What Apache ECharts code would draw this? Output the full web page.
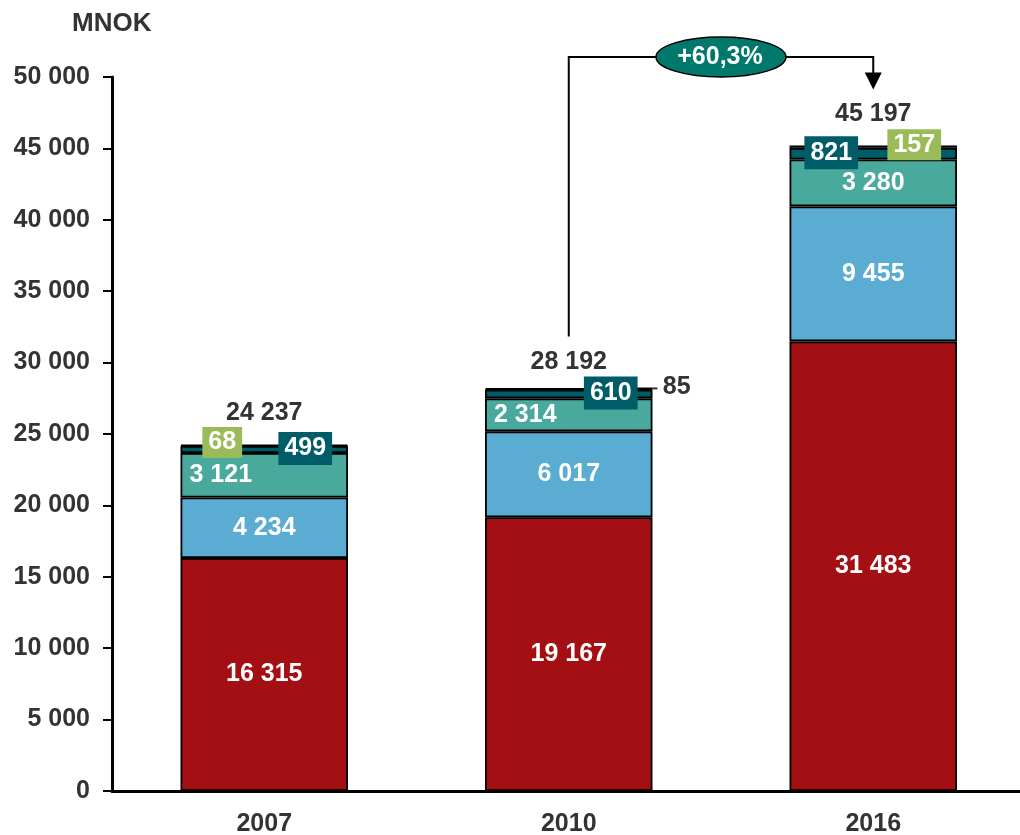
<!DOCTYPE html>
<html><head><meta charset="utf-8">
<script src="https://cdn.jsdelivr.net/npm/echarts@6/dist/echarts.min.js"></script>
<style>html,body{margin:0;padding:0;background:#fff}#c{width:1020px;height:835px}</style>
</head><body><div id="c"></div>
<script>
// ---- data ----
const years = ['2007', '2010', '2016'];
const segRed = [16315, 19167, 31483];
const segBlue = [4234, 6017, 9455];
const segTeal = [3121, 2314, 3280];
const segDark = [499, 610, 821];
const segGreen = [68, 85, 157];
const totals = [24237, 28192, 45197];
const growthText = '+60,3%';
const unitText = 'MNOK';
const yMin = 0, yMax = 50000, yStep = 5000;

// ---- styles ----
const FONT = '"Liberation Sans", Arial, sans-serif';
const TXT = '#333333';
const C = { red: '#A30F12', blue: '#5BACD3', teal: '#4AA99D', dark: '#005D68', green: '#9BBB59', oval: '#00786B' };
const fmt = v => String(v).replace(/\B(?=(\d{3})+(?!\d))/g, ' ');
const whiteLbl = { show: true, color: '#fff', fontWeight: 'bold', fontSize: 25, fontFamily: FONT, formatter: p => fmt(p.value) };
const border = { borderColor: '#000', borderWidth: 1.8 };

const tealLabelCfg = [
  { position: 'insideLeft', distance: 9 },
  { position: 'insideLeft', distance: 9 },
  { position: 'inside' }
];
const darkLabelCfg = [
  { position: 'inside', offset: [41, -1] },
  { position: 'inside', offset: [42, -1] },
  { position: 'inside', offset: [-42, -1] }
];
const greenLabelCfg = [
  { position: 'inside', offset: [-42, -3], backgroundColor: C.green, padding: [3, 6] },
  { position: 'right', distance: 10, offset: [0, -2], color: TXT, backgroundColor: 'transparent', padding: 0 },
  { position: 'inside', offset: [41, -2], backgroundColor: C.green, padding: [3, 6] }
];
const totalDist = [19, 14, 19];

const chart = echarts.init(document.getElementById('c'), null, { renderer: 'canvas' });

const option = {
  animation: false,
  grid: { left: 112, right: -5.5, top: 77, bottom: 44, containLabel: false, outerBoundsMode: 'none' },
  xAxis: {
    type: 'category', data: years,
    axisLine: { lineStyle: { color: '#000', width: 3 } },
    axisTick: { show: false },
    axisLabel: { color: TXT, fontWeight: 'bold', fontSize: 25, fontFamily: FONT, margin: 21 }
  },
  yAxis: {
    type: 'value', min: yMin, max: yMax, interval: yStep,
    axisLine: { show: true, lineStyle: { color: '#000', width: 3 } },
    axisTick: { show: true, length: 9, lineStyle: { color: '#000', width: 2 } },
    splitLine: { show: false },
    axisLabel: { color: TXT, fontWeight: 'bold', fontSize: 25, fontFamily: FONT, margin: 22, formatter: v => fmt(v) }
  },
  series: [
    { type: 'bar', stack: 's', barWidth: '55%', data: segRed, itemStyle: Object.assign({ color: C.red }, border), label: Object.assign({ position: 'inside' }, whiteLbl) },
    { type: 'bar', stack: 's', data: segBlue, itemStyle: Object.assign({ color: C.blue }, border), label: Object.assign({ position: 'inside' }, whiteLbl) },
    { type: 'bar', stack: 's', data: segTeal.map((v, i) => ({ value: v, label: tealLabelCfg[i] })), itemStyle: Object.assign({ color: C.teal }, border), label: whiteLbl },
    { type: 'bar', stack: 's', data: segDark.map((v, i) => ({ value: v, label: darkLabelCfg[i] })), itemStyle: Object.assign({ color: C.dark }, border),
      label: Object.assign({}, whiteLbl, { backgroundColor: C.dark, padding: [4, 6] }) },
    { type: 'bar', stack: 's', data: segGreen.map((v, i) => ({ value: v, label: greenLabelCfg[i] })), itemStyle: Object.assign({ color: C.green }, border),
      label: Object.assign({}, whiteLbl) },
    { type: 'scatter', symbolSize: 0, itemStyle: { opacity: 1 }, data: totals.map((v, i) => ({ value: v, label: { distance: totalDist[i] } })), z: 10,
      label: { show: true, position: 'top', color: TXT, opacity: 1, fontWeight: 'bold', fontSize: 25, fontFamily: FONT, formatter: p => fmt(p.value) } }
  ]
};
chart.setOption(option);

// ---- annotations positioned via the chart's own scales ----
const px = (i, v) => chart.convertToPixel({ gridIndex: 0 }, [i, v]);
const pA = px(1, totals[1]);
const pB = px(2, totals[2]);
const pTop = px(0, yMax);
const lineY = pTop[1] - 20;
const startY = pA[1] - 52;
const tipY = pB[1] - 56;
const midX = (pA[0] + pB[0]) / 2;
const barHalf = (pB[0] - pA[0]) * 0.55 / 2;
const pG = px(1, totals[1]);

chart.setOption({
  graphic: [
    { type: 'text', left: 72, top: 11, style: { text: unitText, fill: TXT, font: 'bold 26px ' + FONT } },
    { type: 'polyline', shape: { points: [[pA[0], startY], [pA[0], lineY], [pB[0], lineY], [pB[0], tipY - 16]] }, style: { stroke: '#000', lineWidth: 2, fill: null }, z: 20 },
    { type: 'polygon', shape: { points: [[pB[0] - 8.5, tipY - 17], [pB[0] + 8.5, tipY - 17], [pB[0], tipY]] }, style: { fill: '#000' }, z: 20 },
    { type: 'ellipse', shape: { cx: midX, cy: lineY, rx: 65, ry: 20 }, style: { fill: C.oval, stroke: '#000', lineWidth: 1.5 }, z: 21 },
    { type: 'text', x: midX - 1, y: lineY, style: { text: growthText, fill: '#fff', font: 'bold 25px ' + FONT, textAlign: 'center', textVerticalAlign: 'middle' }, z: 22 },
    { type: 'line', shape: { x1: pG[0] + barHalf - 17, y1: pG[1], x2: pG[0] + barHalf + 5, y2: pG[1] }, style: { stroke: '#333', lineWidth: 2 }, z: 1 }
  ]
});
</script>
</body></html>
